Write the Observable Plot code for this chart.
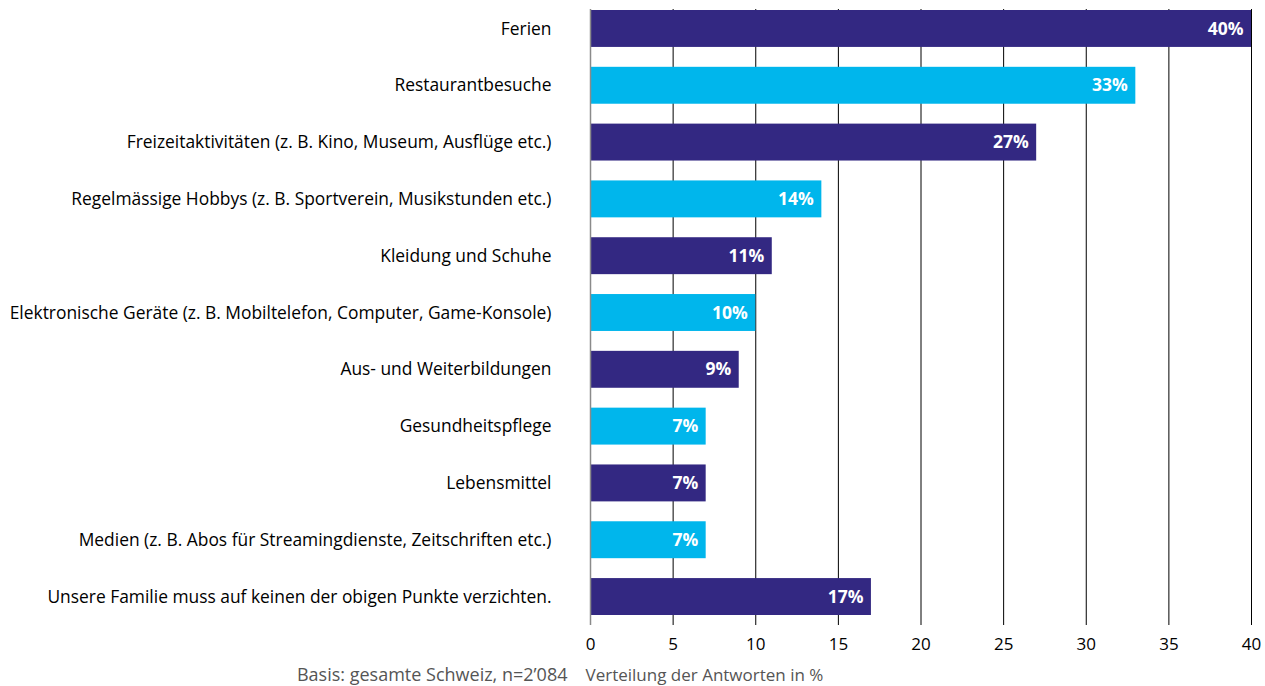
<!DOCTYPE html>
<html>
<head>
<meta charset="utf-8">
<script src="https://cdn.jsdelivr.net/npm/d3@7"></script>
<script src="https://cdn.jsdelivr.net/npm/@observablehq/plot@0.6"></script>
<style>
  html, body { margin: 0; padding: 0; background: #fff; }
  #chart svg { display: block; }
</style>
</head>
<body>
<div id="chart"></div>
<script>
const categories = [
  "Ferien",
  "Restaurantbesuche",
  "Freizeitaktivitäten (z. B. Kino, Museum, Ausflüge etc.)",
  "Regelmässige Hobbys (z. B. Sportverein, Musikstunden etc.)",
  "Kleidung und Schuhe",
  "Elektronische Geräte (z. B. Mobiltelefon, Computer, Game-Konsole)",
  "Aus- und Weiterbildungen",
  "Gesundheitspflege",
  "Lebensmittel",
  "Medien (z. B. Abos für Streamingdienste, Zeitschriften etc.)",
  "Unsere Familie muss auf keinen der obigen Punkte verzichten."
];
const values = [40, 33, 27, 14, 11, 10, 9, 7, 7, 7, 17];
const xTicks = [0, 5, 10, 15, 20, 25, 30, 35, 40];
const axisTitle = "Verteilung der Antworten in %";
const basisNote = "Basis: gesamte Schweiz, n=2’084";

const data = categories.map((c, i) => ({category: c, value: values[i], idx: i}));
const DARK = "#332882";
const CYAN = "#00b6ec";
const FONT = "'Open Sans', 'Noto Sans', sans-serif";

const chart = Plot.plot({
  width: 1265,
  height: 686,
  marginTop: 10,
  marginBottom: 71,
  marginLeft: 590,
  marginRight: 14,
  style: {fontFamily: FONT, fontSize: "16px", color: "#000", background: "#fff"},
  x: {domain: [0, 40], ticks: xTicks},
  y: {domain: categories, paddingInner: 0.35, paddingOuter: 0, align: 0, round: false},
  marks: [
    Plot.ruleX(xTicks.filter(t => t > 0), {stroke: "#000", strokeWidth: 1, insetBottom: -10, insetTop: -1}),
    Plot.barX(data, {
      x: "value", y: "category",
      fill: d => d.idx % 2 ? CYAN : DARK
    }),
    Plot.ruleX([0], {stroke: "#8a8a8a", strokeWidth: 1.5, insetBottom: -10, insetTop: -1}),
    Plot.text(data, {
      x: "value", y: "category",
      text: d => d.value + "%",
      textAnchor: "end", dx: -8,
      fill: "#fff", fontWeight: "bold", fontSize: 17.5
    }),
    Plot.axisX({ticks: xTicks, tickSize: 0, tickPadding: 22, fontSize: 17, label: null, fill: "#000"}),
    Plot.axisY({tickSize: 0, tickPadding: 39, fontSize: 17.4, label: null, fill: "#000"}),
    Plot.text([axisTitle], {
      frameAnchor: "bottom-left", dx: -5, dy: 65,
      textAnchor: "start", fill: "#555", fontSize: 17
    }),
    Plot.text([basisNote], {
      frameAnchor: "bottom-left", dx: -23, dy: 65,
      textAnchor: "end", fill: "#555", fontSize: 18
    })
  ]
});
document.getElementById("chart").appendChild(chart);
</script>
</body>
</html>
